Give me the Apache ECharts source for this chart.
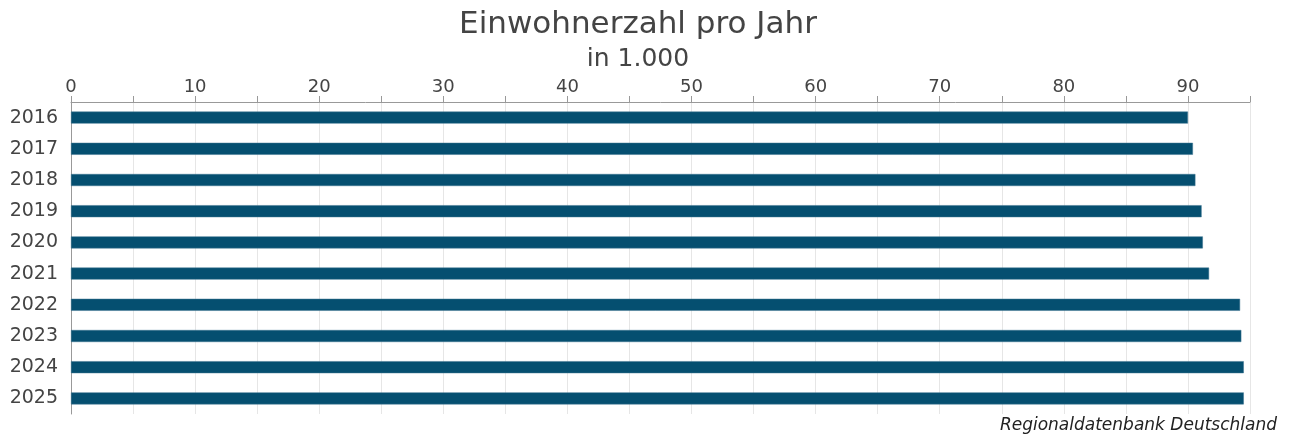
<!DOCTYPE html>
<html>
<head>
<meta charset="utf-8">
<script src="https://cdn.jsdelivr.net/npm/echarts@6/dist/echarts.min.js"></script>
<style>html,body{margin:0;padding:0;background:#fff}#c{width:1290px;height:439px}</style>
</head>
<body>
<div id="c"></div>
<script>
const categories = ['2016','2017','2018','2019','2020','2021','2022','2023','2024','2025'];
const values = [90.0, 90.4, 90.6, 91.1, 91.2, 91.7, 94.2, 94.3, 94.5, 94.5];
const titleText = 'Einwohnerzahl pro Jahr';
const subtitleText = 'in 1.000';
const sourceText = 'Regionaldatenbank Deutschland';

const chart = echarts.init(document.getElementById('c'));
chart.setOption({
  animation: false,
  textStyle: { fontFamily: 'DejaVu Sans' },
  title: {
    text: titleText,
    subtext: subtitleText,
    left: 638,
    textAlign: 'center',
    top: 9,
    padding: 0,
    itemGap: 7,
    textStyle: { fontFamily: 'DejaVu Sans', fontSize: 31, fontWeight: 'normal', color: '#444' },
    subtextStyle: { fontFamily: 'DejaVu Sans', fontSize: 25, color: '#444' }
  },
  grid: { left: 71, right: 40, top: 102, bottom: 25 },
  xAxis: {
    type: 'value',
    position: 'top',
    min: 0, max: 95, interval: 5,
    axisLine: { show: true, lineStyle: { color: '#999', width: 1 } },
    axisTick: { show: true, length: 6, lineStyle: { color: '#999' } },
    axisLabel: {
      margin: 6,
      fontSize: 18, color: '#444',
      formatter: v => (v % 10 === 0 ? String(v) : '')
    },
    splitLine: { show: true, lineStyle: { color: '#e6e6e6', width: 1 } }
  },
  yAxis: {
    type: 'category',
    data: categories,
    inverse: true,
    axisLine: { show: true, lineStyle: { color: '#999' } },
    axisTick: { show: false },
    axisLabel: { fontSize: 19, color: '#444', margin: 13 }
  },
  series: [{
    type: 'bar',
    data: values,
    barWidth: 12,
    itemStyle: { color: '#054f70', borderColor: '#3f7490', borderWidth: 0.5 }
  }],
  graphic: [{
    type: 'text',
    right: 13,
    top: 417,
    style: { text: sourceText, fontFamily: 'DejaVu Sans', fontSize: 17, fontStyle: 'italic', fill: '#222' }
  }]
});
</script>
</body>
</html>
